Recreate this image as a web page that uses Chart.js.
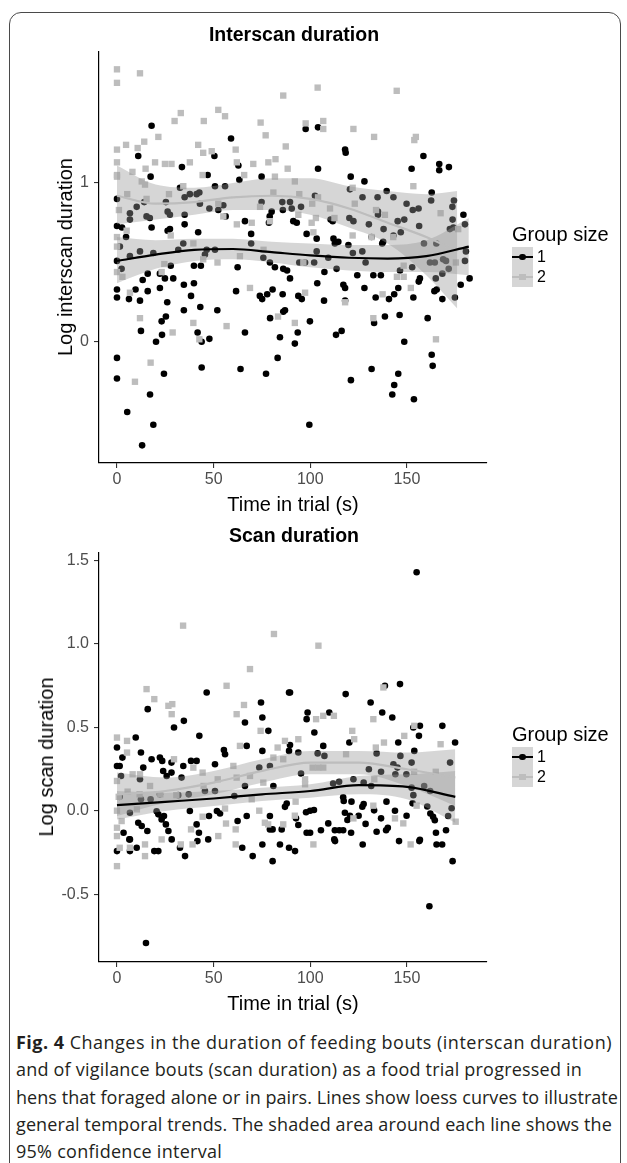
<!DOCTYPE html>
<html><head><meta charset="utf-8">
<script src="https://cdn.jsdelivr.net/npm/chart.js@4.4.1/dist/chart.umd.min.js"></script>
<style>
body{margin:0;background:#fff;}
#wrap{position:relative;width:627px;height:1163px;overflow:hidden;background:#fff;font-family:"Liberation Sans",Arial,sans-serif;}
#frame{position:absolute;left:9px;top:12px;width:612px;height:1180px;border:1.5px solid #4a4a4a;border-radius:12px;box-sizing:border-box;}
.t{position:absolute;white-space:nowrap;color:#000;line-height:1;transform:translate(-50%,-50%);}
.ty{position:absolute;white-space:nowrap;color:#000;line-height:1;transform:translate(-50%,-50%) rotate(-90deg);font-size:20px;}
.lt{position:absolute;white-space:nowrap;color:#000;line-height:1;font-size:20px;}
.ll{position:absolute;white-space:nowrap;color:#000;line-height:1;font-size:16px;transform:translateY(-50%);}
.kb{position:absolute;width:21px;height:20px;background:#d6d6d6;}
.kl{position:absolute;height:2px;width:21px;}
#cap{position:absolute;left:16px;top:1029px;font-family:"Open Sans",sans-serif;font-size:18px;line-height:27.3px;color:#231f20;}
#cap .cl{white-space:nowrap;}
#cap .cl span.in{display:inline-block;}
</style></head><body>
<div id="wrap">
<div id="frame"></div>
<canvas id="c1" width="627" height="500" style="position:absolute;left:0;top:0"></canvas>
<canvas id="c2" width="627" height="520" style="position:absolute;left:0;top:500px"></canvas>
<div class="t" style="left:294px;top:35px;font-size:19.5px;font-weight:bold">Interscan duration</div>
<div class="t" style="left:293px;top:504px;font-size:20px">Time in trial (s)</div>
<div class="ty" style="left:65px;top:257px">Log interscan duration</div>
<div class="t" style="left:294px;top:536px;font-size:19.5px;font-weight:bold">Scan duration</div>
<div class="t" style="left:293px;top:1003px;font-size:20px">Time in trial (s)</div>
<div class="ty" style="left:46px;top:757px">Log scan duration</div>
<div id="leg1"></div><div id="leg2"></div>
<div id="cap">
<div class="cl"><span class="in"><b>Fig. 4</b> Changes in the duration of feeding bouts (interscan duration)</span></div>
<div class="cl"><span class="in">and of vigilance bouts (scan duration) as a food trial progressed in</span></div>
<div class="cl"><span class="in">hens that foraged alone or in pairs. Lines show loess curves to illustrate</span></div>
<div class="cl"><span class="in">general temporal trends. The shaded area around each line shows the</span></div>
<div class="cl"><span class="in">95% confidence interval</span></div>
</div>
</div>
<script>
// ---------- DATA ----------
const groupLabels = ["1", "2"];
const legendTitle = "Group size";
const xTicks = [0, 50, 100, 150];
const interscanYTicks = [0, 1];
const scanYTicks = [-0.5, 0, 0.5, 1.0, 1.5];

// Interscan duration, group size 1 (black circles) [time, log duration]
const interscanG1 = [[17.9,1.36],[59,1.28],[11,1.17],[50.4,1.17],[33.6,1.10],[17.4,1.04],[46.9,1.05],[62.8,1.11],[74.8,1.04],[0,0.90],[10.2,0.85],[14.1,0.88],[32.6,0.97],[37.7,0.93],[35,0.91],[41.2,0.93],[42.6,0.94],[50.7,0.98],[55.9,0.98],[63.3,1.02],[74.8,0.88],[85.5,0.88],[89.5,0.88],[25.3,0.88],[26.2,0.82],[27.4,0.80],[6.7,0.81],[6.7,0.77],[15.3,0.79],[17,0.78],[47.8,0.84],[42.9,0.87],[52.4,0.83],[55,0.86],[35,0.80],[80,0.82],[79,0.79],[85.8,0.83],[56.2,0.79],[0,0.73],[2.6,0.72],[4.7,0.66],[17.9,0.72],[26.2,0.70],[27.4,0.71],[35,0.74],[42,0.69],[66.2,0.76],[69.4,0.68],[78.6,0.75],
[97.6,1.34],[104,1.35],[118,1.21],[118.3,1.19],[158.5,1.17],[104,1.09],[152.4,1.09],[166.7,1.12],[166.7,1.08],[171.7,1.10],[120.9,1.04],[128,1.01],[139.5,0.95],[143,0.91],[162.8,0.94],[162.5,0.89],[102.4,0.92],[120.5,0.96],[127,0.91],[134.8,0.91],[149.8,0.87],[153,0.83],[156,0.84],[174.3,0.89],[173.5,0.85],[95.2,0.85],[90.4,0.84],[120.2,0.78],[122.3,0.76],[110.5,0.77],[111.6,0.76],[130.3,0.74],[135,0.82],[135,0.80],[148.6,0.77],[145.2,0.76],[156.3,0.73],[137.9,0.71],[146.8,0.69],[143,0.67],[179.2,0.80],[180,0.74],[173.6,0.77],[174,0.72],[172.2,0.71],[91.2,0.76],[93,0.75],[98.1,0.68],[103.3,0.65],[112,0.65],[131.7,0.66],
[0,0.51],[0,0.33],[0,0.28],[6.2,0.27],[9.6,0.33],[11.9,0.26],[13.3,0.39],[15.9,0.43],[15.9,0.32],[22.2,0.43],[22.2,0.34],[24.8,0.40],[26,0.25],[29.1,0.40],[27.8,0.48],[34.6,0.36],[34.6,0.20],[38.3,0.29],[39.8,0.37],[39.8,0.48],[43.1,0.22],[43.4,0.48],[51.9,0.20],[23.1,0.13],[25.3,0.16],[12.4,0.07],[23.3,0.045],[20.2,0.002],[41.7,0.06],[43.8,0.002],[47.8,0.02],[0,-0.10],[0,-0.23],[17.1,-0.33],[5.3,-0.44],[18.8,-0.52],[13,-0.65],[24.3,-0.20],[43.8,-0.16],[63.9,-0.17],[77.1,-0.20],[83.1,-0.10],[62.4,0.47],[61.6,0.32],[66.2,0.06],[79.2,0.15],[84.3,0.03],[73.9,0.29],[75.1,0.27],[77.7,0.30],[80.5,0.33],[85.7,0.30],[86,0.19],[86.9,0.20],[86,0.46],[88,0.45],[81.7,0.47],[6.7,0.54],[11.9,0.57],[18.8,0.56],[31.7,0.58],[34.3,0.62],[45.5,0.55],[46.4,0.58],[50.7,0.58],[69.4,0.62],[75.7,0.53],[79.1,0.50],[2.4,0.46],[1.5,0.60],
[89.5,0.40],[93.8,0.29],[95.6,0.27],[99.5,-0.52],[92,-0.01],[93.5,0.06],[99.8,0.13],[103.6,0.37],[107.3,0.44],[107.1,0.26],[113.6,0.46],[113.3,0.045],[116.2,0.07],[117.1,0.36],[118,0.34],[118,0.26],[119.7,0.61],[121,-0.24],[124.3,0.42],[128,0.34],[128.6,0.50],[131.7,-0.17],[132.6,0.42],[133,0.12],[133.8,0.28],[136.5,0.42],[137.2,0.62],[138.6,0.16],[140.7,0.27],[143.4,0.30],[143.4,-0.27],[142.4,-0.33],[145.5,-0.20],[145.5,0.34],[146.2,0.17],[146.4,0.45],[148.6,0.002],[152.7,0.47],[153.3,0.28],[153.6,-0.36],[156.1,0.38],[156.7,0.40],[160.7,0.15],[162.8,-0.08],[163.3,-0.15],[164.2,0.32],[165.4,0.33],[164.9,0.40],[168.3,0.27],[174.8,0.28],[177.8,0.36],[182.4,0.40],[103.3,0.57],[122,0.56],[126.9,0.57],[158.8,0.62],[165.2,0.62],[161.9,0.50],[164.4,0.50],[168.7,0.52],[170.2,0.51],[171.6,0.46],[168.3,0.43],[180.5,0.57],[180,0.51],[94.3,0.50],[97.3,0.50],[102,0.50],[109.3,0.53],[112.7,0.62],[114.5,0.63],[137.7,0.63]];

// Interscan duration, group size 2 (grey squares)
const interscanG2 = [[0,1.715],[11.9,1.69],[0,1.63],[86,1.55],[33,1.44],[29.8,1.39],[44.9,1.39],[52.4,1.46],[55.9,1.42],[74.3,1.38],[76.9,1.30],[21.4,1.29],[14.1,1.26],[4.7,1.24],[0,1.21],[10.7,1.22],[42,1.24],[44.6,1.19],[49,1.20],[61.4,1.21],[87.3,1.23],[0,1.13],[19.7,1.13],[24.8,1.12],[28.2,1.12],[37.7,1.13],[62,1.13],[70.5,1.12],[78.3,1.13],[82,1.15],[14.8,1.09],[8,1.07],[88.3,1.09],[0,1.05],[0,1.04],[44.3,1.05],[65.8,1.05],[12.8,1.01],[14.5,0.99],[81.7,1.04],[5.3,0.93],[26.9,0.93],[34.3,0.98],[15.3,0.90],[80.9,0.94],[52.4,0.87],[1,0.83],[74,0.85],[55,0.79],[62,0.74],[69.7,0.75],[79.1,0.76],[0,0.66],[5,0.70],[27.8,0.67],
[103.8,1.60],[144.7,1.58],[97.6,1.375],[106.7,1.39],[106.7,1.34],[122.3,1.34],[133,1.29],[154.6,1.29],[153.8,1.27],[153.3,0.98],[121.9,0.97],[92,1.01],[94.3,0.93],[104,0.91],[101,0.87],[123,0.87],[93.8,0.80],[102.9,0.78],[110.2,0.84],[112.5,0.78],[134,0.83],[138.6,0.80],[100.7,0.75],[101.6,0.69],[121.9,0.67],[167.4,0.81],[176.5,0.71],[131.7,0.66],[142.9,0.66],
[0,0.60],[0,0.44],[2.8,0.41],[6.7,0.31],[11.9,0.15],[17.4,-0.13],[9.3,-0.25],[23.1,0.44],[24.5,0.49],[28.8,0.06],[39.5,0.12],[42.6,0.017],[44.6,0.52],[52,0.50],[56.7,0.10],[68.8,0.34],[63.6,0.54],[75.8,0.58],[83.3,0.16],[39.5,0.62],
[97.3,0.31],[92,0.12],[118,0.25],[132.6,0.15],[137.4,0.30],[144.8,0.41],[148.3,0.41],[148.3,0.48],[152,0.34],[165,0.017],[175.3,0.50],[96.4,0.50]];

// Scan duration, group size 1 (black circles)
const scanG1 = [[46.4,0.71],[15.9,0.61],[74.5,0.65],[89,0.71],[34.6,0.54],[29.5,0.50],[66.2,0.53],[75.2,0.56],[78.3,0.48],[42.6,0.45],[9.7,0.44],[0,0.38],[2.8,0.32],[12.4,0.35],[55.3,0.365],[55.9,0.34],[67.1,0.39],[75.2,0.36],[89,0.36],[17.9,0.31],[13.6,0.26],[22.2,0.32],[23.4,0.30],[28.2,0.29],[34.3,0.27],[38.3,0.30],[41.2,0.30],[50.7,0.28],[0,0.27],[1.4,0.27],[2.1,0.21],[11.9,0.19],[23.9,0.24],[28.2,0.23],[25.7,0.21],[1.4,0.085],[12.4,0.07],[17.4,0.07],[22.2,0.10],[31.7,0.095],[37.1,0.1],[45.5,0.12],[50.7,0.12],[60.7,0.09],[66.2,0.15],[73.6,0.26],[79.1,0.27],[80.9,0.15],[33.4,0.2],[6.7,-0.01],[3.4,-0.13],[6.4,-0.17],[11,-0.07],[12.8,-0.09],[15.7,-0.12],[20.5,-0.002],[21.4,-0.02],[23.1,-0.05],[24.3,-0.03],[25.3,-0.08],[26.6,-0.12],[28.3,-0.17],[37.7,0],[41.2,-0.08],[42.4,-0.13],[47.2,-0.17],[47.6,-0.03],[51.7,0],[53.3,-0.015],[62.4,-0.06],[67.1,-0.03],[79.1,-0.03],[80.5,-0.11],[79.1,-0.11],[85.2,-0.11],[87.8,0.045],[86.9,0.025],
[146.4,0.76],[138.6,0.75],[118.3,0.70],[131.2,0.65],[89.5,0.71],[137.2,0.59],[142.4,0.56],[98.6,0.59],[98.1,0.55],[109.8,0.59],[168.3,0.51],[156.7,0.51],[153.3,0.50],[156.2,0.45],[174.9,0.41],[102.1,0.47],[120.2,0.41],[145.5,0.41],[153.8,0.36],[106.7,0.39],[103.8,0.345],[107.3,0.33],[134.3,0.345],[146.6,0.33],[89.5,0.395],[93.8,0.35],[172.3,0.29],[152.4,0.29],[143,0.28],[145.1,0.26],[130.3,0.25],[95.2,0.225],[136.6,0.235],[144,0.22],[149.7,0.22],[122.3,0.19],[114.9,0.175],[111.8,0.165],[127.6,0.17],[131.5,0.15],[152.4,0.14],[158.9,0.15],[162,0.12],[173.1,0.017],[153.3,0.095],[160.5,0.027],[162.1,-0.015],[163.5,-0.035],[164.4,-0.055],[171.3,-0.03],[117,0.082],[117.3,0.06],[121.3,0.056],[139.4,0.056],[152.9,0.046],[127.6,0.042],[126.9,0.026],[97.8,-0.007],[99.9,0.002],[101.9,0.006],[92.6,-0.044],[93.8,-0.084],[98.1,-0.13],[99.9,-0.13],[105.5,-0.115],[109.3,-0.074],[112.7,-0.115],[115,-0.115],[117,-0.115],[117.9,-0.01],[120.5,-0.028],[119.2,-0.054],[121.1,-0.13],[125,-0.028],[128.6,-0.077],[133,0.004],[134.3,-0.124],[136.6,-0.044],[139.2,-0.115],[140.1,-0.1],[143.8,0.002],[149.8,-0.028],[156.7,-0.172],[165,-0.13],[170.2,-0.115],
[0,-0.24],[6.7,-0.24],[6.7,-0.17],[10.2,-0.22],[19.3,-0.24],[21.4,-0.24],[32.6,-0.22],[35.2,-0.27],[41.6,-0.18],[15,-0.79],[64.8,-0.22],[70.2,-0.27],[75.2,-0.2],[80.5,-0.30],[84.3,-0.2],[89,-0.22],[92.1,-0.24],[112.4,-0.17],
[112.8,-0.18],[127.1,-0.2],[145.9,-0.18],[156.4,-0.18],[165.3,-0.2],[168.2,-0.2],[173.6,-0.30],[161.6,-0.57],[155,1.43]];

// Scan duration, group size 2 (grey squares)
const scanG2 = [[68.8,0.85],[56.7,0.75],[15.3,0.73],[19.3,0.67],[26.6,0.63],[28.6,0.64],[28.3,0.58],[65.7,0.635],[61.9,0.58],[0,0.44],[5.2,0.42],[5.2,0.35],[86.9,0.42],[74.3,0.48],[83.1,0.38],[63.6,0.39],[29.5,0.31],[39.5,0.26],[8.1,0.22],[11.9,0.22],[44.3,0.23],[60.2,0.27],[68.8,0.21],[80.9,0.32],[86,0.31],[17.1,0.15],[52.1,0.19],[61.9,0.20],[75.7,0.17],[0,0.18],[5.5,0.116],[11.7,0.10],[22.4,0.10],[30.7,0.095],[44.8,0.15],[0.9,0.085],[2.4,-0.06],[0,0.002],[10.3,0.01],[38.3,-0.11],[44.3,-0.034],[55.9,0.015],[56.4,-0.075],[61.4,-0.11],[69.7,0.07],[73.6,0.002],[76.5,-0.07],[78.2,-0.08],[86,-0.08],[0,-0.10],[0,-0.15],[52.4,-0.15],
[104.2,0.99],[137.8,0.74],[103,0.55],[106.7,0.57],[112.2,0.57],[132.6,0.55],[121.7,0.48],[122.7,0.43],[93.8,0.43],[138.1,0.41],[133.9,0.38],[148.6,0.45],[153.8,0.51],[167.4,0.40],[118.5,0.34],[101.2,0.26],[104.2,0.26],[106.7,0.26],[153.7,0.235],[164.9,0.235],[97.3,0.19],[97.3,0.16],[133.1,0.19],[155,0.032],[132.6,0.032],[92,-0.028],[122.3,-0.044],[143.8,-0.044],[148.1,-0.074],[175.2,-0.064],[92.4,0.056],
[0,-0.33],[1.4,-0.22],[6.7,-0.22],[14.5,-0.2],[14.5,-0.27],[23.1,-0.17],[33,-0.2],[39.1,-0.2],[61.4,-0.2],[101.6,-0.2],[151.9,-0.2],[34.2,1.11],[81.2,1.06]];

// Loess fits and 95% CI
const intFitX1 = [0, 20, 40, 60, 80, 100, 120, 140, 160, 182];
const intFit1  = [0.51, 0.55, 0.58, 0.585, 0.565, 0.545, 0.53, 0.525, 0.54, 0.60];
const intLo1   = [0.37, 0.46, 0.51, 0.52, 0.50, 0.47, 0.45, 0.44, 0.44, 0.42];
const intHi1   = [0.66, 0.64, 0.65, 0.65, 0.63, 0.62, 0.61, 0.61, 0.64, 0.78];
const intFitX2 = [0, 20, 40, 60, 80, 100, 120, 140, 160, 176];
const intFit2  = [0.92, 0.87, 0.88, 0.91, 0.92, 0.90, 0.84, 0.75, 0.66, 0.57];
const intLo2   = [0.74, 0.77, 0.80, 0.83, 0.83, 0.80, 0.72, 0.62, 0.42, 0.21];
const intHi2   = [1.11, 0.99, 0.97, 1.00, 1.03, 1.03, 0.98, 0.95, 0.93, 0.95];

const scanFitX1 = [0, 25, 50, 75, 100, 125, 150, 175];
const scanFit1  = [0.035, 0.055, 0.075, 0.10, 0.12, 0.155, 0.145, 0.085];
const scanLo1   = [-0.05, 0.0, 0.03, 0.06, 0.08, 0.10, 0.07, -0.07];
const scanHi1   = [0.12, 0.11, 0.12, 0.14, 0.16, 0.21, 0.22, 0.24];
const scanFitX2 = [0, 25, 50, 75, 100, 125, 150, 175];
const scanFit2  = [0.10, 0.12, 0.17, 0.24, 0.29, 0.29, 0.25, 0.20];
const scanLo2   = [-0.03, 0.05, 0.10, 0.17, 0.22, 0.22, 0.15, 0.03];
const scanHi2   = [0.23, 0.20, 0.24, 0.31, 0.36, 0.36, 0.35, 0.37];

// ---------- STYLE ----------
const BLACK = '#000000', GREY = '#bdbdbd', BAND = 'rgba(153,153,153,0.4)';
const FONT = '"Liberation Sans", Arial, sans-serif';

function pts(arr){ return arr.map(p => ({x:p[0], y:p[1]})); }
function zipXY(xs, ys){ return xs.map((x,i) => ({x:x, y:ys[i]})); }

function curveSets(xs, fit, lo, hi, col){
  return [
    {type:'line', data:zipXY(xs, lo), borderWidth:0, pointRadius:0, fill:false, cubicInterpolationMode:'monotone', order:2, borderColor:'rgba(0,0,0,0)'},
    {type:'line', data:zipXY(xs, hi), borderWidth:0, pointRadius:0, fill:'-1', backgroundColor:BAND, cubicInterpolationMode:'monotone', order:2, borderColor:'rgba(0,0,0,0)'},
    {type:'line', data:zipXY(xs, fit), borderWidth:2.2, borderColor:col, pointRadius:0, fill:false, cubicInterpolationMode:'monotone', order:1}
  ];
}

function makeChart(id, g1, g2, c1, c2, yMin, yMax, yTicks, fmt, pad){
  new Chart(document.getElementById(id), {
    type:'scatter',
    data:{ datasets:[
      {data:pts(g1), pointStyle:'circle', pointRadius:3.3, pointBorderWidth:0, backgroundColor:BLACK, borderColor:BLACK, order:4},
      {data:pts(g2), pointStyle:'rect', pointRadius:4.5, pointBorderWidth:0, backgroundColor:GREY, borderColor:GREY, order:3},
      ...curveSets(c1[0], c1[1], c1[2], c1[3], BLACK),
      ...curveSets(c2[0], c2[1], c2[2], c2[3], GREY)
    ]},
    options:{
      responsive:false, animation:false, devicePixelRatio:1,
      layout:{padding:pad},
      plugins:{legend:{display:false}, tooltip:{enabled:false}, title:{display:false}},
      scales:{
        x:{type:'linear', min:-9.3, max:191.4,
           afterBuildTicks:a => { a.ticks = xTicks.map(v => ({value:v})); },
           afterFit:s => { s.height = 30; },
           grid:{display:true, drawOnChartArea:false, drawTicks:true, tickLength:5, color:'#333', lineWidth:1.1},
           border:{display:true, color:'#000', width:1.2},
           ticks:{font:{family:FONT, size:16}, color:'#4d4d4d', padding:2, maxRotation:0}},
        y:{type:'linear', min:yMin, max:yMax,
           afterBuildTicks:a => { a.ticks = yTicks.map(v => ({value:v})); },
           afterFit:s => { s.width = 99; },
           grid:{display:true, drawOnChartArea:false, drawTicks:true, tickLength:5, color:'#333', lineWidth:1.1},
           border:{display:true, color:'#000', width:1.2},
           ticks:{font:{family:FONT, size:16}, color:'#4d4d4d', padding:5, callback:fmt}}
      }
    }
  });
}

makeChart('c1', interscanG1, interscanG2,
  [intFitX1, intFit1, intLo1, intHi1], [intFitX2, intFit2, intLo2, intHi2],
  -0.761, 1.824, interscanYTicks, v => String(v),
  {top:52, left:0, right:140, bottom:500-463-30});
makeChart('c2', scanG1, scanG2,
  [scanFitX1, scanFit1, scanLo1, scanHi1], [scanFitX2, scanFit2, scanLo2, scanHi2],
  -0.904, 1.545, scanYTicks, v => v.toFixed(1),
  {top:53, left:0, right:140, bottom:520-462-30});

// ---------- LEGENDS ----------
function legend(elId, cy){
  const el = document.getElementById(elId);
  const top1 = cy - 10, top2 = cy + 10;
  el.innerHTML =
    '<div class="lt" style="left:512px;top:'+(cy-33)+'px">'+legendTitle+'</div>' +
    '<div class="kb" style="left:512px;top:'+top1+'px"></div>' +
    '<div class="kl" style="left:512px;top:'+(top1+9)+'px;background:'+BLACK+'"></div>' +
    '<div style="position:absolute;left:'+(522.5-3.3)+'px;top:'+(top1+10-3.3)+'px;width:6.6px;height:6.6px;border-radius:50%;background:'+BLACK+'"></div>' +
    '<div class="ll" style="left:537px;top:'+(top1+10)+'px">'+groupLabels[0]+'</div>' +
    '<div class="kb" style="left:512px;top:'+top2+'px"></div>' +
    '<div class="kl" style="left:512px;top:'+(top2+9)+'px;background:'+GREY+'"></div>' +
    '<div style="position:absolute;left:'+(522.5-3.2)+'px;top:'+(top2+10-3.2)+'px;width:6.4px;height:6.4px;background:'+GREY+'"></div>' +
    '<div class="ll" style="left:537px;top:'+(top2+10)+'px">'+groupLabels[1]+'</div>';
}
legend('leg1', 257);
legend('leg2', 757);

// ---------- CAPTION LINE FITTING (match line lengths of the printed caption) ----------
const capTargets = [596, 566, 602, 596, 206];
function fitCaption(){
  document.querySelectorAll('#cap .in').forEach((s, i) => {
    s.style.letterSpacing = '0px';
    const w = s.getBoundingClientRect().width;
    const n = s.textContent.length;
    s.style.letterSpacing = ((capTargets[i] - w) / n).toFixed(3) + 'px';
  });
}
if (document.fonts && document.fonts.ready) { document.fonts.ready.then(fitCaption); } else { fitCaption(); }
fitCaption();
</script>
</body></html>
